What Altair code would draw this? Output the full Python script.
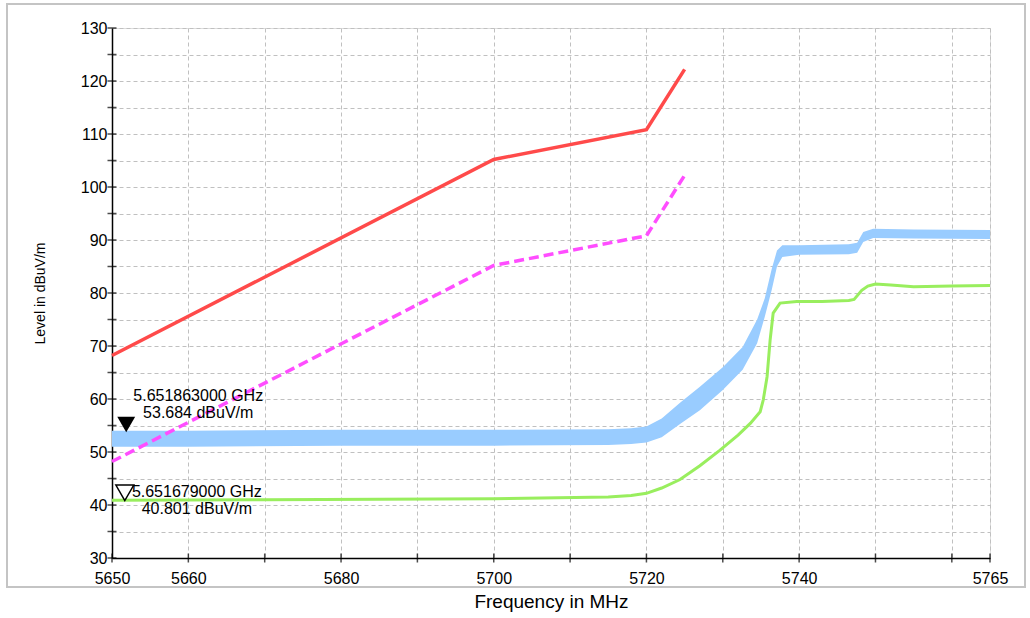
import altair as alt
import pandas as pd

# ---------------- data ----------------
# limit lines (FCC mask) : frequency in MHz, level in dBuV/m
limit_freq = [5650, 5700, 5720, 5725]
limit_peak = [68.2, 105.2, 110.8, 122.2]
limit_avg = [48.2, 85.2, 90.8, 102.2]

# peak trace (blue, noisy) as lower / upper envelope
peak_freq = [5650, 5660, 5680, 5700, 5715, 5718, 5720, 5722, 5724.4, 5727, 5730,
             5732.6, 5734.5, 5735.5, 5736.4, 5737.1, 5737.8, 5740, 5746.5, 5747.6,
             5748.4, 5749.7, 5755, 5765]
peak_low = [51.0, 51.0, 51.2, 51.2, 51.3, 51.5, 51.8, 52.8, 55.3, 57.9, 61.7,
            65.5, 70.5, 75.5, 80.5, 85.0, 86.8, 87.2, 87.3, 87.6,
            89.6, 90.4, 90.3, 90.2]
peak_high = [54.0, 54.0, 54.2, 54.2, 54.3, 54.5, 54.8, 56.3, 59.3, 62.3, 66.0,
             69.8, 75.0, 79.0, 84.5, 88.0, 89.0, 89.0, 89.2, 89.5,
             91.5, 92.1, 92.0, 91.9]

# average trace (green)
avg_freq = [5650, 5670, 5700, 5715, 5718, 5720, 5722, 5724.4, 5727, 5729.6, 5732,
            5733.6, 5734.9, 5735.3, 5735.8, 5736.2, 5736.6, 5737.5, 5739.7, 5743,
            5746.5, 5747.2, 5748.2, 5749, 5750, 5752, 5755, 5760, 5765]
avg_level = [40.9, 41.0, 41.2, 41.5, 41.8, 42.2, 43.2, 44.8, 47.4, 50.3, 53.2,
             55.4, 57.6, 59.8, 64.2, 71.1, 76.2, 78.1, 78.4, 78.4,
             78.6, 78.8, 80.5, 81.3, 81.7, 81.5, 81.2, 81.3, 81.4]

# markers
marker_freq = [5651.863, 5651.679]
marker_level = [53.684, 40.801]
marker_line1 = ["5.651863000 GHz", "5.651679000 GHz"]
marker_line2 = ["53.684 dBuV/m", "40.801 dBuV/m"]

# axis ticks / labels
x_ticks = [5650, 5660, 5670, 5680, 5690, 5700, 5710, 5720, 5730, 5740, 5750, 5760, 5765]
x_labels = [5650, 5660, 5680, 5700, 5720, 5740, 5765]
y_ticks = list(range(30, 131, 5))

# ---------------- frames ----------------
lim_df = pd.DataFrame({"f": limit_freq, "peak": limit_peak, "avg": limit_avg})
pk_df = pd.DataFrame({"f": peak_freq, "lo": peak_low, "hi": peak_high})
av_df = pd.DataFrame({"f": avg_freq, "v": avg_level})
mk_df = pd.DataFrame({"f": marker_freq, "v": marker_level,
                      "t1": marker_line1, "t2": marker_line2, "i": [1, 2]})
xt_df = pd.DataFrame({"f": x_ticks})
yt_df = pd.DataFrame({"v": y_ticks})
one = pd.DataFrame({"a": [0]})

W, H = 878, 530
FONT = "Liberation Sans"
xs = alt.Scale(domain=[5650, 5765], nice=False, zero=False)
ys = alt.Scale(domain=[30, 130], nice=False, zero=False)

label_list = "[" + ",".join(str(v) for v in x_labels) + "]"
x_axis = alt.Axis(values=x_ticks, format="d",
                  labelExpr=f"indexof({label_list}, datum.value) >= 0 ? datum.label : ''",
                  ticks=False, domain=True, domainColor="black", domainWidth=1.5,
                  grid=True, gridColor="#c0c0c0", gridDash=[4, 3], gridWidth=1,
                  labelFont=FONT, labelFontSize=16, labelColor="black", labelPadding=12,
                  labelFlush=False, labelOverlap=False,
                  title="Frequency in MHz", titleFont=FONT, titleFontSize=19,
                  titleFontWeight="normal", titleColor="black", titlePadding=6)
y_axis = alt.Axis(values=y_ticks, format="d",
                  labelExpr="datum.value % 10 == 0 ? datum.label : ''",
                  ticks=False, domain=True, domainColor="black", domainWidth=1.5,
                  grid=True, gridColor="#c0c0c0", gridDash=[4, 3], gridWidth=1,
                  labelFont=FONT, labelFontSize=16, labelColor="black", labelPadding=5,
                  labelFlush=False, labelOverlap=False,
                  title="Level in dBuV/m", titleFont=FONT, titleFontSize=14,
                  titleFontWeight="normal", titleColor="black", titlePadding=33)

base_axes = alt.Chart(pk_df).mark_area(color="#99ccff", opacity=1).encode(
    x=alt.X("f:Q", scale=xs, axis=x_axis),
    y=alt.Y("lo:Q", scale=ys, axis=y_axis),
    y2="hi:Q",
)

# crossing tick marks on both axes
x_tick_marks = alt.Chart(xt_df).mark_tick(color="black", thickness=1.5, size=9).encode(
    x=alt.X("f:Q", scale=xs, axis=None), y=alt.value(H))
y_tick_marks = alt.Chart(yt_df).mark_tick(color="black", thickness=1.5, size=9).encode(
    y=alt.Y("v:Q", scale=ys, axis=None), x=alt.value(0))

avg_line = alt.Chart(av_df).mark_line(color="#99ee5e", strokeWidth=3).encode(
    x=alt.X("f:Q", scale=xs, axis=None), y=alt.Y("v:Q", scale=ys, axis=None))

peak_lim = alt.Chart(lim_df).mark_line(color="#ff4a4a", strokeWidth=3.5).encode(
    x=alt.X("f:Q", scale=xs, axis=None), y=alt.Y("peak:Q", scale=ys, axis=None))

avg_lim = alt.Chart(lim_df).mark_line(color="#ff4dff", strokeWidth=3.5, strokeDash=[10, 5]).encode(
    x=alt.X("f:Q", scale=xs, axis=None), y=alt.Y("avg:Q", scale=ys, axis=None))

mk_base = alt.Chart(mk_df).encode(x=alt.X("f:Q", scale=xs, axis=None),
                                  y=alt.Y("v:Q", scale=ys, axis=None))
m1 = mk_base.transform_filter("datum.i == 1")
m2 = mk_base.transform_filter("datum.i == 2")

tri1 = m1.mark_point(shape="triangle-down", size=320, filled=True, color="black",
                     opacity=1, yOffset=-8)
tri2 = m2.mark_point(shape="triangle-down", size=320, filled=False, color="black",
                     strokeWidth=1.5, opacity=1, yOffset=-8)

def txt(layer, field, dy):
    return layer.mark_text(font=FONT, fontSize=16, color="black", align="center",
                           baseline="middle", dx=72, dy=dy).encode(text=f"{field}:N")

frame = alt.Chart(one).mark_rect(filled=False, stroke="#c4c4c4", strokeWidth=2).encode(
    x=alt.value(-105), x2=alt.value(W + 35), y=alt.value(-24), y2=alt.value(H + 29))

chart = alt.layer(
    base_axes, avg_line, peak_lim, avg_lim, x_tick_marks, y_tick_marks, tri1, tri2,
    txt(m1, "t1", -36), txt(m1, "t2", -19), txt(m2, "t1", -9), txt(m2, "t2", 8),
    frame,
).resolve_axis(x="independent", y="independent").properties(
    width=W, height=H,
    autosize=alt.AutoSizeParams(type="none"),
    padding={"left": 112, "top": 28, "right": 40, "bottom": 60},
).configure_view(stroke=None).configure(background="white")

chart.save("out.html", embed_options={"renderer": "svg", "actions": False})
